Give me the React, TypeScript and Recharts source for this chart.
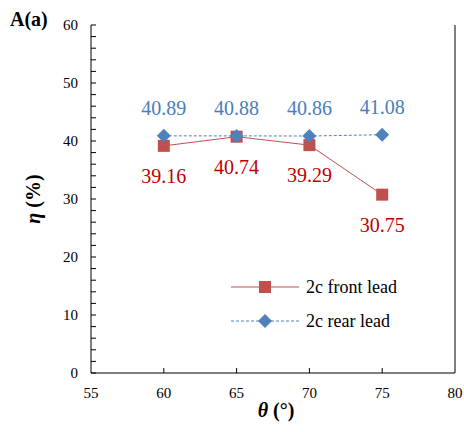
import React from 'react'
import {
  LineChart,
  Line,
  XAxis,
  YAxis,
  LabelList,
  Legend,
} from 'recharts'

// incidence angle (deg)
const thetaValues = [60, 65, 70, 75]
// efficiency (%) for each lead configuration
const frontLead = [39.16, 40.74, 39.29, 30.75]
const rearLead = [40.89, 40.88, 40.86, 41.08]

const xTicks = [55, 60, 65, 70, 75, 80]
const yTicks = [0, 2, 4, 6, 8, 10, 12, 14, 16, 18, 20, 22, 24, 26, 28, 30, 32, 34, 36, 38, 40, 42, 44, 46, 48, 50, 52, 54, 56, 58, 60]
const yLabelTicks = [0, 10, 20, 30, 40, 50, 60]

const data = thetaValues.map((theta, i) => ({
  theta,
  front: frontLead[i],
  rear: rearLead[i],
}))

const FONT = 'Liberation Serif'
const RED = '#C0504D'
const RED_TEXT = '#C00000'
const BLUE = '#4F81BD'
const BLUE_TEXT = '#4A7EBB'
const TICK_LEN = 5

const BottomTick = (props: any) => {
  const { x, y, payload } = props
  const edge = payload.value === 55 || payload.value === 80
  return (
    <g>
      {!edge && <line x1={x} y1={y} x2={x} y2={y - TICK_LEN} stroke="#000" />}
      <text x={x} y={y + 25} textAnchor="middle" fontFamily={FONT} fontSize={15} fill="#000">
        {payload.value}
      </text>
    </g>
  )
}

const TopTick = (props: any) => {
  const { x, y, payload } = props
  if (payload.value === 55 || payload.value === 80) return <g />
  return <line x1={x} y1={y} x2={x} y2={y + TICK_LEN} stroke="#000" />
}

const LeftTick = (props: any) => {
  const { x, y, payload } = props
  return (
    <g>
      <line x1={x} y1={y} x2={x + TICK_LEN} y2={y} stroke="#000" />
      {yLabelTicks.includes(payload.value) && (
        <text x={x - 13} y={y + 5} textAnchor="end" fontFamily={FONT} fontSize={15} fill="#000">
          {payload.value}
        </text>
      )}
    </g>
  )
}

const RightTick = (props: any) => {
  const { x, y } = props
  return <line x1={x} y1={y} x2={x - TICK_LEN} y2={y} stroke="#000" />
}

const SquareDot = (props: any) => {
  const { cx, cy } = props
  return <rect x={cx - 6} y={cy - 6} width={12} height={12} fill={RED} />
}

const DiamondDot = (props: any) => {
  const { cx, cy } = props
  return <path d={`M${cx},${cy - 7}L${cx + 7},${cy}L${cx},${cy + 7}L${cx - 7},${cy}Z`} fill={BLUE} />
}

const legendRows = [
  { label: '2c front lead', color: RED, dash: undefined, marker: 'square' },
  { label: '2c rear lead', color: BLUE, dash: '3 2', marker: 'diamond' },
]

const renderLegend = () => (
  <div style={{ fontFamily: FONT, fontSize: 18, color: '#000' }}>
    {legendRows.map((r) => (
      <div key={r.label} style={{ display: 'flex', alignItems: 'center', height: 34 }}>
        <svg width={68} height={16}>
          <line x1={0} y1={8} x2={68} y2={8} stroke={r.color} strokeDasharray={r.dash} />
          {r.marker === 'square' ? (
            <rect x={28} y={2} width={12} height={12} fill={r.color} />
          ) : (
            <path d="M34,1L41,8L34,15L27,8Z" fill={r.color} />
          )}
        </svg>
        <span style={{ marginLeft: 7, whiteSpace: 'nowrap' }}>{r.label}</span>
      </div>
    ))}
  </div>
)

const YTitle = (props: any) => {
  const { viewBox } = props
  const cx = viewBox.x + 33
  const cy = viewBox.y + viewBox.height / 2
  return (
    <text
      x={cx}
      y={cy}
      transform={`rotate(-90, ${cx}, ${cy})`}
      textAnchor="middle"
      dominantBaseline="central"
      fontFamily={FONT}
      fontSize={20}
      fontWeight="bold"
      fill="#000"
    >
      <tspan fontStyle="italic">η</tspan> (%)
    </text>
  )
}

const XTitle = (props: any) => {
  const { viewBox } = props
  const cx = viewBox.x + viewBox.width / 2 + 3
  return (
    <text x={cx} y={viewBox.y + 44} textAnchor="middle" fontFamily={FONT} fontSize={20} fontWeight="bold" fill="#000">
      <tspan fontStyle="italic">θ</tspan> (°)
    </text>
  )
}

export default function App() {
  return (
    <div style={{ position: 'absolute', left: 0, top: 0, width: 464, height: 432, background: '#fff' }}>
      <div
        style={{
          position: 'absolute',
          left: 10,
          top: 8,
          fontFamily: FONT,
          fontSize: 20,
          fontWeight: 'bold',
          zIndex: 1,
        }}
      >
        A(a)
      </div>
      <LineChart width={464} height={432} data={data} margin={{ top: 25, right: 0, bottom: 0, left: 0 }}>
        <XAxis
          xAxisId="bottom"
          dataKey="theta"
          type="number"
          domain={[55, 80]}
          ticks={xTicks}
          interval={0}
          height={59}
          tickSize={0}
          tickMargin={0}
          tickLine={false}
          axisLine={{ stroke: '#000' }}
          tick={BottomTick}
          label={{ content: XTitle }}
        />
        <XAxis
          xAxisId="top"
          orientation="top"
          dataKey="theta"
          type="number"
          domain={[55, 80]}
          ticks={xTicks}
          interval={0}
          height={0}
          tickSize={0}
          tickMargin={0}
          tickLine={false}
          axisLine={{ stroke: '#000' }}
          tick={TopTick}
        />
        <YAxis
          yAxisId="left"
          type="number"
          domain={[0, 60]}
          ticks={yTicks}
          interval={0}
          width={91}
          tickSize={0}
          tickMargin={0}
          tickLine={false}
          axisLine={{ stroke: '#000' }}
          tick={LeftTick}
          label={{ content: YTitle }}
        />
        <YAxis
          yAxisId="right"
          orientation="right"
          type="number"
          domain={[0, 60]}
          ticks={yTicks}
          interval={0}
          width={9}
          tickSize={0}
          tickMargin={0}
          tickLine={false}
          axisLine={{ stroke: '#000' }}
          tick={RightTick}
        />
        <Line
          xAxisId="bottom"
          yAxisId="left"
          dataKey="front"
          stroke={RED}
          strokeWidth={1}
          dot={SquareDot}
          activeDot={false}
          isAnimationActive={false}
        >
          <LabelList dataKey="front" position="bottom" offset={23} fill={RED_TEXT} fontFamily={FONT} fontSize={20} />
        </Line>
        <Line
          xAxisId="bottom"
          yAxisId="left"
          dataKey="rear"
          stroke={BLUE}
          strokeWidth={1}
          strokeDasharray="3 2"
          dot={DiamondDot}
          activeDot={false}
          isAnimationActive={false}
        >
          <LabelList dataKey="rear" position="top" offset={21} fill={BLUE_TEXT} fontFamily={FONT} fontSize={20} />
        </Line>
        <Legend
          layout="horizontal"
          verticalAlign="middle"
          align="center"
          content={renderLegend}
          wrapperStyle={{ left: 231, top: 270, width: 240 }}
        />
      </LineChart>
    </div>
  )
}
